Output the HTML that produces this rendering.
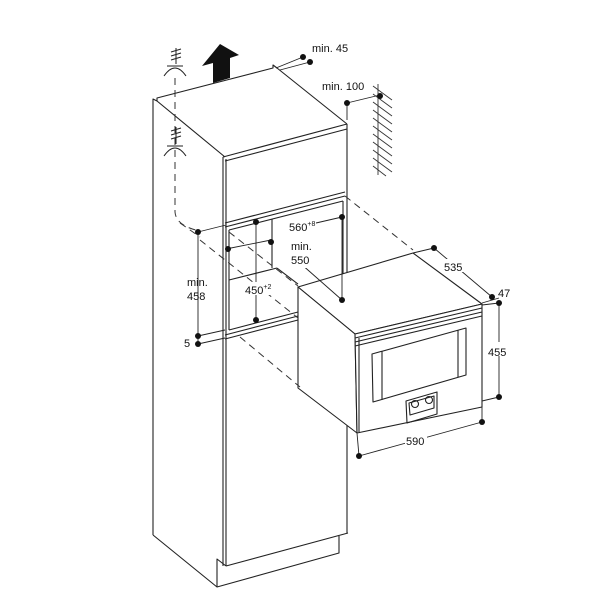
<!DOCTYPE html>
<html><head><meta charset="utf-8"><style>
html,body{margin:0;padding:0;background:#fff;width:600px;height:600px;overflow:hidden}
svg{display:block}
text{font-family:"Liberation Sans",Arial,sans-serif;font-size:11px;fill:#111}
</style></head><body>
<svg width="600" height="600" viewBox="0 0 600 600" xmlns="http://www.w3.org/2000/svg">
<g fill="none" stroke="#222" stroke-width="1.1" stroke-linejoin="round">
<polyline points="153,535 153,99 157,101 225,157"/>
<polyline points="157,101 157,98 273,68 273,65 277,68 347,124"/>
<line x1="223" y1="157" x2="223" y2="566"/>
<line x1="226" y1="159" x2="226" y2="566"/>
<line x1="347" y1="124" x2="347" y2="533"/>
<line x1="223" y1="157" x2="347" y2="124"/>
<line x1="225" y1="161" x2="347" y2="129"/>
<line x1="225" y1="223" x2="345" y2="192"/>
<line x1="225" y1="227" x2="345" y2="196"/>
<line x1="229" y1="230" x2="229" y2="330"/>
<line x1="229" y1="230" x2="343" y2="201"/>
<line x1="343" y1="201" x2="343" y2="305"/>
<line x1="272" y1="219" x2="272" y2="268"/>
<line x1="229" y1="280" x2="277" y2="268"/>
<line x1="277" y1="268" x2="298" y2="284"/>
<line x1="229" y1="330" x2="298" y2="312"/>
<line x1="225" y1="335" x2="298" y2="316"/>
<line x1="225" y1="339" x2="298" y2="320"/>
<polyline points="153,535 217,587 339,553 339,536"/>
<polyline points="217,587 217,559 226,566"/>
<line x1="226" y1="566" x2="348" y2="533"/>
<polygon points="298,287 413,253 482,304 355,334" fill="#fff"/>
<polygon points="298,287 355,334 357,433 298,388" fill="#fff"/>
<polygon points="355,334 482,304 482,407 357,433" fill="#fff"/>
<line x1="355" y1="338" x2="482" y2="308"/>
<line x1="355" y1="342" x2="482" y2="312"/>
<line x1="355" y1="346" x2="482" y2="316"/>
<line x1="359" y1="338" x2="359" y2="432"/>
<polygon points="372,354 466,328 466,375 373,402"/>
<polyline points="382,351 382,400"/>
<polyline points="458,330 458,377"/>
<polygon points="406,401 437,392 437,414 407,423"/>
<polygon points="409,403 434,396 434,408 410,415"/>
<circle cx="415" cy="404" r="3.5"/>
<circle cx="429" cy="400" r="3.5"/>
</g>
<g fill="none" stroke="#333" stroke-width="1" stroke-dasharray="7,5">
<path d="M175,78 L175,212 Q176,226 200,231"/>
<line x1="180" y1="223" x2="200" y2="237"/>
<line x1="200" y1="240" x2="298" y2="318"/>
<line x1="240" y1="337" x2="300" y2="387"/>
<line x1="345" y1="196" x2="413" y2="250"/>
<line x1="229" y1="232" x2="298" y2="286"/>
</g>
<g stroke="#333" stroke-width="0.9">
<line x1="378" y1="84" x2="378" y2="175"/>
<line x1="373" y1="86" x2="392" y2="100"/><line x1="373" y1="94" x2="392" y2="108"/>
<line x1="373" y1="102" x2="392" y2="116"/><line x1="373" y1="110" x2="392" y2="124"/>
<line x1="373" y1="118" x2="392" y2="132"/><line x1="373" y1="126" x2="392" y2="140"/>
<line x1="373" y1="134" x2="392" y2="148"/><line x1="373" y1="142" x2="392" y2="156"/>
<line x1="373" y1="150" x2="392" y2="164"/><line x1="373" y1="158" x2="392" y2="172"/>
<line x1="373" y1="166" x2="386" y2="176"/>
</g>
<g fill="none" stroke="#222" stroke-width="1">
<path d="M164,76 Q175,60 186,76"/><line x1="167" y1="66" x2="183" y2="66"/>
<line x1="176" y1="48" x2="176" y2="64"/><line x1="171" y1="52" x2="181" y2="49"/><line x1="171" y1="56" x2="181" y2="53"/><line x1="171" y1="60" x2="181" y2="57"/>
<path d="M164,156 Q175,140 186,156"/><line x1="167" y1="146" x2="183" y2="146"/>
<line x1="176" y1="127" x2="176" y2="144"/><line x1="171" y1="131" x2="181" y2="128"/><line x1="171" y1="135" x2="181" y2="132"/><line x1="171" y1="139" x2="181" y2="136"/>
</g>
<polygon points="220,44 239,55 230,58 230,78 213,83 213,63 202,66" fill="#111"/>
<g stroke="#222" stroke-width="0.9" fill="none">
<line x1="276" y1="68" x2="303" y2="57"/><line x1="280" y1="70" x2="310" y2="62"/>
<line x1="347" y1="103" x2="380" y2="95"/><line x1="347" y1="103" x2="347" y2="120"/>
<line x1="198" y1="232" x2="226" y2="225"/><line x1="198" y1="232" x2="198" y2="344"/>
<line x1="226" y1="249" x2="271" y2="240"/>
<line x1="198" y1="336" x2="225" y2="330"/><line x1="198" y1="344" x2="225" y2="338"/>
<line x1="256" y1="222" x2="256" y2="320"/>
<line x1="342" y1="217" x2="342" y2="300"/>
<line x1="316" y1="223" x2="342" y2="217"/>
<line x1="292" y1="256" x2="342" y2="300"/>
<line x1="413" y1="253" x2="434" y2="248"/><line x1="434" y1="248" x2="492" y2="297"/>
<line x1="482" y1="303" x2="499" y2="298"/><line x1="482" y1="305" x2="499" y2="303"/>
<line x1="499" y1="303" x2="499" y2="397"/><line x1="482" y1="401" x2="499" y2="397"/>
<line x1="482" y1="407" x2="482" y2="422"/><line x1="357" y1="433" x2="359" y2="456"/>
<line x1="359" y1="456" x2="482" y2="422"/>
</g>
<g fill="#111">
<circle cx="303" cy="57" r="3"/><circle cx="310" cy="62" r="3"/>
<circle cx="347" cy="103" r="3"/><circle cx="380" cy="96" r="3"/>
<circle cx="198" cy="232" r="3"/><circle cx="228" cy="249" r="3"/><circle cx="271" cy="242" r="3"/>
<circle cx="256" cy="222" r="3"/><circle cx="256" cy="320" r="3"/>
<circle cx="342" cy="217" r="3"/><circle cx="342" cy="300" r="3"/>
<circle cx="198" cy="336" r="3"/><circle cx="198" cy="344" r="3"/>
<circle cx="434" cy="248" r="3"/><circle cx="492" cy="297" r="3"/><circle cx="499" cy="303" r="3"/>
<circle cx="499" cy="397" r="3"/><circle cx="482" cy="422" r="3"/><circle cx="359" cy="456" r="3"/>
</g>
<g>
<rect x="286" y="219" width="30" height="13" fill="#fff"/>
<rect x="290" y="240" width="26" height="28" fill="#fff"/>
<rect x="244" y="282" width="34" height="13" fill="#fff"/>
<rect x="495" y="342" width="18" height="14" fill="#fff"/>
<rect x="405" y="433" width="22" height="13" fill="#fff"/>
<rect x="443" y="259" width="22" height="13" fill="#fff"/>
<text x="312" y="52">min. 45</text>
<text x="322" y="90">min. 100</text>
<text x="289" y="231">560<tspan font-size="7" dy="-5">+8</tspan></text>
<text x="291" y="250">min.</text>
<text x="291" y="264">550</text>
<text x="245" y="294">450<tspan font-size="7" dy="-5">+2</tspan></text>
<text x="187" y="286">min.</text>
<text x="187" y="300">458</text>
<text x="184" y="347">5</text>
<text x="444" y="271">535</text>
<text x="498" y="297">47</text>
<text x="488" y="356">455</text>
<text x="406" y="445">590</text>
</g>
</svg>
</body></html>
